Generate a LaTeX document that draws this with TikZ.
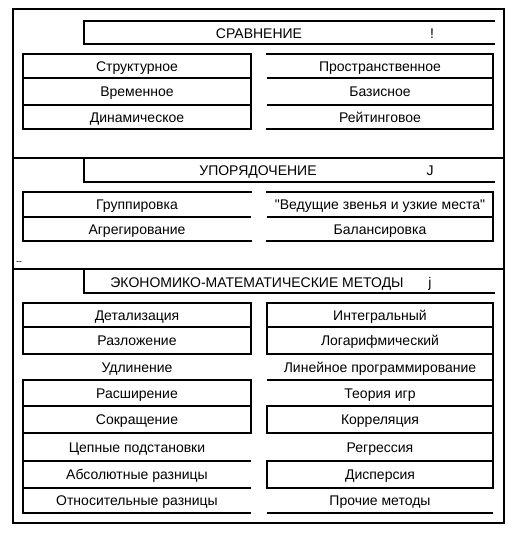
\documentclass[tikz,border=0pt]{standalone}
\usepackage{fontspec}
\setmainfont{Liberation Sans}
\usetikzlibrary{positioning}

\begin{document}
\begin{tikzpicture}[x=1pt, y=-1pt,
  lbl/.style={inner sep=0pt, anchor=base, yshift=-5pt, font=\fontsize{14}{16}\selectfont},
  boxline/.style={line width=1.6pt, line cap=rect},
  rule/.style={line width=1.1pt},
]
\useasboundingbox (0,0) rectangle (512,536);
\draw[line width=1.1pt] (13,9) rectangle (504,523);
\draw[boxline] (13,158) -- (504,158) (13,269) -- (504,269);

% headers
\draw[boxline] (494,21) -- (84,21) -- (84,44) -- (494,44);
\draw[boxline] (84,158) -- (84,182) -- (494,182);
\draw[boxline] (84,269) -- (84,293) -- (494,293);
\node[lbl] (h1) at (259,33) {СРАВНЕНИЕ};
\node[lbl] (h1m) at (432,33) {!};
\node[lbl] (h2) at (258,170) {УПОРЯДОЧЕНИЕ};
\node[lbl] (h2m) at (430,170) {J};
\node[lbl] (h3) at (257,282) {ЭКОНОМИКО-МАТЕМАТИЧЕСКИЕ МЕТОДЫ};
\node[lbl] (h3m) at (430,282) {j};
\node[inner sep=0pt, font=\fontsize{9}{9}\selectfont] (gap) at (19,263) {-{}-};

% comparison
\draw[boxline] (23,54) rectangle (251,129);
\draw[boxline] (267,54) -- (493,54) -- (493,129) -- (267,129);
\foreach \y in {78,105}
  \draw[rule] (23,\y) -- (251,\y) (267,\y) -- (493,\y);
\foreach \t/\u/\y [count=\i] in {Структурное/Пространственное/66,
    Временное/Базисное/91.5, Динамическое/Рейтинговое/117} {
  \node[lbl] (a\i) at (137,\y) {\t};
  \node[lbl] (b\i) at (380,\y) {\u};
}

% ordering
\draw[boxline] (251,192) -- (23,192) -- (23,241) -- (251,241);
\draw[boxline] (267,192) -- (493,192) -- (493,241) -- (267,241);
\draw[rule] (23,217) -- (251,217) (267,217) -- (493,217);
\node[lbl] (c1) at (137,204.5) {Группировка};
\node[lbl] (d1) at (380,204.5) {\textquotedbl Ведущие звенья и узкие места\textquotedbl};
\node[lbl] (c2) at (137,229) {Агрегирование};
\node[lbl] (d2) at (380,229) {Балансировка};

% methods
\foreach \y in {303,327,354,380,406,433,461,488}
  \draw[rule] (23,\y) -- (251,\y) (267,\y) -- (493,\y);
\draw[boxline] (23,303) -- (251,303) (267,303) -- (493,303)
  (23,354) -- (251,354) (267,354) -- (493,354)
  (23,380) -- (251,380) (267,406) -- (493,406)
  (23,433) -- (251,433) (267,433) -- (493,433)
  (267,461) -- (493,461) (267,488) -- (493,488);
\draw[line width=2pt] (23,513) -- (251,513) (267,513) -- (493,513);
\draw[boxline] (23,303) -- (23,354) (251,303) -- (251,354)
  (23,380) -- (23,513) (251,380) -- (251,433)
  (267,303) -- (267,354) (267,406) -- (267,433) (267,461) -- (267,488)
  (493,303) -- (493,488);
\foreach \t/\u/\y [count=\i] in {Детализация/Интегральный/315,
    Разложение/Логарифмический/340.5,
    Удлинение/Линейное программирование/367,
    Расширение/Теория игр/393, Сокращение/Корреляция/419.5,
    Цепные подстановки/Регрессия/447,
    Абсолютные разницы/Дисперсия/474.5,
    Относительные разницы/Прочие методы/500.5} {
  \node[lbl] (e\i) at (137,\y) {\t};
  \node[lbl] (f\i) at (380,\y) {\u};
}
\end{tikzpicture}
\end{document}
